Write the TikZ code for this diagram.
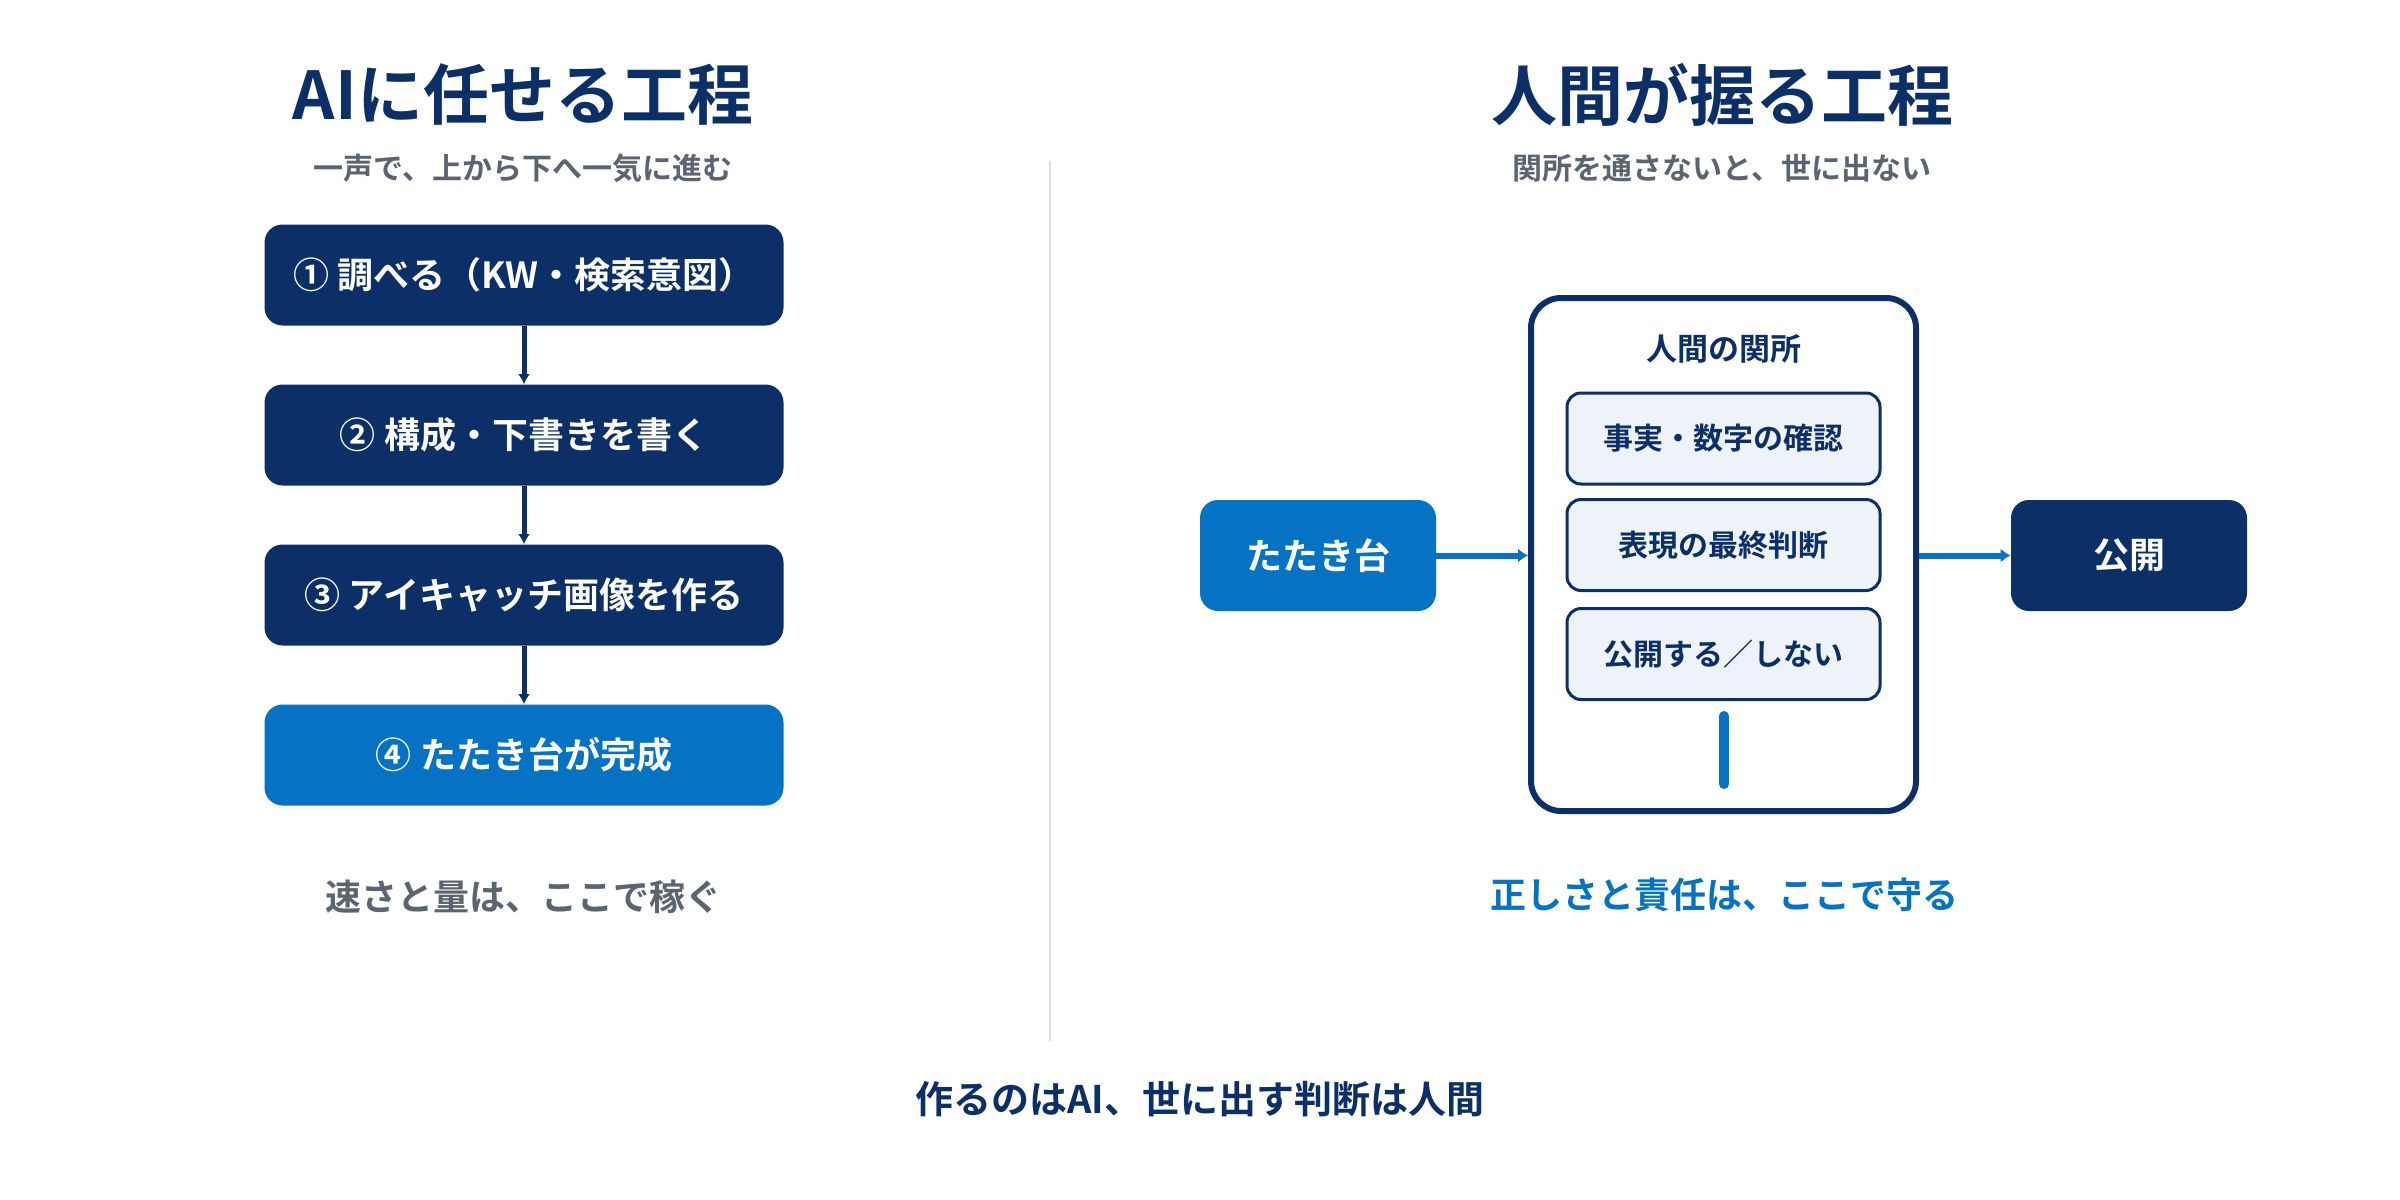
\documentclass[tikz,border=0pt]{standalone}
\usepackage{fontspec}
\setmainfont{Noto Sans CJK JP}[BoldFont={* Bold}]
\usetikzlibrary{arrows.meta}
\definecolor{navy}{HTML}{0B2F66}
\definecolor{mblue}{HTML}{0672C4}
\definecolor{sgray}{HTML}{5B6470}
\definecolor{lfill}{HTML}{EEF3FA}
\begin{document}
\begin{tikzpicture}[x=0.5pt,y=-0.5pt,
  stepbox/.style={rounded corners=9pt,minimum width=259.5pt,minimum height=50.5pt,text=white,font=\bfseries\fontsize{18}{20}\selectfont,inner sep=0},
  chk/.style={draw=navy,line width=1.5pt,fill=lfill,rounded corners=7pt,minimum width=156.5pt,minimum height=45.5pt,text=navy,font=\bfseries\fontsize{15}{18}\selectfont},
  ttl/.style={text=navy,font=\bfseries\fontsize{33}{36}\selectfont},
  sub/.style={text=sgray,font=\bfseries\fontsize{15}{18}\selectfont},
  vconn/.style={draw=navy,line width=2.5pt,-{Latex[length=5pt,width=6pt]}},
  hconn/.style={draw=mblue,line width=3pt,-{Latex[length=5pt,width=7pt]}}]
\useasboundingbox (0,0) rectangle (2400,1200);
\fill[white] (0,0) rectangle (2400,1200);
\node[ttl] (t1) at (523,95) {AIに任せる工程};
\node[sub] (s1) at (523,168) {一声で、上から下へ一気に進む};
\node[stepbox,fill=navy] (b1) at (524,275) {① 調べる（KW・検索意図）};
\node[stepbox,fill=navy] (b2) at (524,435) {② 構成・下書きを書く};
\node[stepbox,fill=navy] (b3) at (524,595) {③ アイキャッチ画像を作る};
\node[stepbox,fill=mblue] (b4) at (524,755) {④ たたき台が完成};
\draw[vconn] (b1) -- (b2);
\draw[vconn] (b2) -- (b3);
\draw[vconn] (b3) -- (b4);
\node[sub,font=\bfseries\fontsize{18}{20}\selectfont] (n1) at (523,897) {速さと量は、ここで稼ぐ};
\draw[draw=gray!25,line width=1pt] (1050,161) -- (1050,1041);
\node[ttl] (t2) at (1722,95) {人間が握る工程};
\node[sub] (s2) at (1722,168) {関所を通さないと、世に出ない};
\node[draw=navy,line width=3pt,rounded corners=15pt,minimum width=192.5pt,minimum height=256.5pt] (gate) at (1723.5,554.5) {};
\node[text=navy,font=\bfseries\fontsize{15.5}{18}\selectfont] (gt) at (1724,349) {人間の関所};
\node[chk] (c1) at (1723.5,438.5) {事実・数字の確認};
\node[chk] (c2) at (1723.5,545) {表現の最終判断};
\node[chk] (c3) at (1723.5,654) {公開する／しない};
\draw[mblue,line width=5pt,line cap=round] (1724,716) -- (1724,784);
\node[stepbox,fill=mblue,minimum width=118pt,minimum height=55.5pt] (draft) at (1318,555.5) {たたき台};
\node[stepbox,fill=navy,minimum width=118pt,minimum height=55.5pt] (pub) at (2129,555.5) {公開};
\draw[hconn] (draft) -- (gate.west |- draft);
\draw[hconn] (gate.east |- pub) -- (pub);
\node[text=mblue,font=\bfseries\fontsize{18}{20}\selectfont] (n2) at (1724,895) {正しさと責任は、ここで守る};
\node[text=navy,font=\bfseries\fontsize{19}{22}\selectfont] (bot) at (1200,1099) {作るのはAI、世に出す判断は人間};
\end{tikzpicture}
\end{document}
